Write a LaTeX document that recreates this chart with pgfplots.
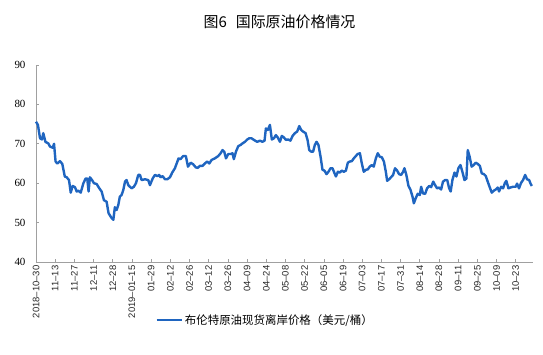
\documentclass[border=0pt]{standalone}
\usepackage{fontspec}
\setmainfont{Liberation Serif}
\newfontfamily\sans{Liberation Sans}
\newfontfamily\cjk{Noto Sans CJK SC}
\usepackage{pgfplots}
\pgfplotsset{compat=1.18}
\definecolor{lineblue}{RGB}{31,101,192}
\definecolor{axgray}{RGB}{160,160,160}
\begin{document}
\begin{tikzpicture}
\begin{axis}[
  at={(0,0)}, anchor=south west,
  width=497bp, height=197bp, scale only axis,
  xmin=0, xmax=259, ymin=40, ymax=90,
  axis x line*=bottom, axis y line*=left,
  axis line style={draw=axgray, line width=0.8bp},
  tick align=inside, major tick length=3bp,
  tick style={draw=axgray, line width=0.6bp},
  xtick={0,10,...,250},
  xticklabels={2018–10–30,11–13,11–27,12–11,12–28,2019–01–15,01–29,02–12,02–26,03–12,03–26,04–09,04–24,05–08,05–22,06–05,06–19,07–03,07–17,07–31,08–14,08–28,09–11,09–25,10–09,10–23},
  xticklabel style={rotate=90, anchor=east, font=\sans\fontsize{9.5}{9.5}\selectfont, text=black!85},
  ytick={40,50,...,90},
  yticklabel style={font=\fontsize{11}{12}\selectfont, xshift=-7bp},
  /pgf/number format/assume math mode=true,
  legend style={at={(0.461,-0.294)}, anchor=center, draw=none, fill=none,
    font=\cjk\fontsize{11.5}{13}\selectfont, inner sep=0pt},
  legend image code/.code={\draw[#1] (0bp,0bp) -- (25bp,0bp);},
  clip=false,
]
\addplot[color=lineblue, line width=2.4bp, line join=round] coordinates {
(0,75.6)(1.0,74.8)(2.1,71.4)(3.1,71.1)(3.8,72.7)(4.9,70.5)(6.4,70.1)(7.3,69.3)(8.7,69.0)(9.4,70.0)
(10.2,65.5)(11.1,65.0)(12.5,65.6)(13.7,64.9)(15.0,61.7)(16.0,61.5)(17.2,60.8)(18.1,57.6)(19.1,59.3)(20.3,59.0)
(21.2,57.9)(22.1,58.1)(23.3,57.6)(24.7,60.0)(25.9,61.2)(26.7,61.2)(27.4,57.9)(28.1,61.5)(29.2,60.8)(30.2,60.0)
(31.6,59.8)(33.0,58.7)(34.2,57.9)(35.4,55.7)(36.8,55.3)(37.8,52.4)(39.2,51.3)(40.3,50.7)(41.1,53.9)(42.0,53.2)
(42.9,54.5)(43.7,56.6)(44.6,57.0)(45.5,58.3)(46.4,60.4)(47.2,60.8)(48.1,59.5)(49.8,58.7)(51.0,59.1)(52.1,60.0)
(53.3,62.1)(54.2,62.1)(55.0,60.8)(56.8,61.0)(58.5,60.8)(59.4,59.5)(60.8,61.2)(62.0,62.1)(63.2,61.8)(64.2,62.1)
(64.9,61.5)(66.0,61.8)(67.2,61.0)(68.4,61.0)(69.8,61.5)(71.0,62.7)(72.4,63.8)(73.3,65.0)(74.3,66.3)(75.3,66.1)
(76.7,66.9)(78.1,66.9)(79.2,64.2)(80.6,65.2)(81.9,64.8)(83.3,64.0)(84.3,63.9)(85.4,64.4)(86.8,64.4)(88.0,65.0)
(89.2,65.5)(90.3,65.0)(91.5,65.9)(93.2,66.3)(95.0,66.9)(96.2,67.6)(97.2,68.4)(98.1,68.0)(99.0,66.3)(100.2,67.4)
(101.4,67.4)(102.4,67.6)(103.1,66.1)(104.2,68.0)(105.4,69.4)(106.6,69.7)(107.6,70.1)(108.9,70.5)(110.1,71.1)(111.1,71.4)
(112.3,71.4)(113.2,71.1)(114.2,70.8)(115.3,70.5)(116.7,70.8)(118.0,70.5)(119.1,70.8)(119.8,73.9)(120.8,73.5)(121.9,74.8)
(122.9,71.1)(124.0,71.4)(125.0,72.2)(126.0,71.6)(127.1,70.5)(128.1,72.0)(129.2,71.6)(130.2,71.0)(131.4,71.1)(132.6,70.8)
(133.7,72.0)(134.9,72.7)(136.1,73.1)(137.2,74.5)(138.2,73.5)(139.2,73.1)(140.5,72.7)(141.5,71.0)(142.4,68.4)(143.4,68.0)
(144.4,68.0)(145.3,69.7)(146.2,70.5)(147.2,69.7)(148.3,66.7)(149.3,63.4)(150.3,63.2)(151.4,62.3)(152.4,62.9)(153.5,63.8)
(154.5,63.8)(155.6,62.5)(156.3,61.7)(157.3,62.9)(158.3,62.7)(159.4,63.2)(160.4,62.9)(161.5,63.2)(162.5,65.2)(163.5,65.5)
(164.6,65.6)(165.6,66.3)(166.7,66.9)(167.6,67.4)(168.8,67.6)(169.8,65.0)(170.8,62.9)(171.9,63.4)(172.9,63.5)(173.9,64.2)
(175.0,64.6)(176.0,64.2)(177.1,66.3)(178.1,67.6)(179.2,66.7)(180.2,66.6)(181.3,65.5)(182.3,62.9)(183.0,60.6)(184.0,61.0)
(185.0,61.5)(186.1,62.1)(187.1,63.8)(188.2,63.2)(189.2,62.3)(190.3,62.1)(191.3,62.9)(192.0,63.8)(193.0,62.1)(194.1,59.3)
(195.1,58.4)(196.2,56.6)(196.9,54.9)(197.9,56.2)(198.9,57.3)(200.0,57.0)(200.7,59.1)(201.7,57.4)(202.8,57.3)(203.8,58.7)
(204.9,59.3)(205.9,59.0)(207.0,60.4)(208.0,59.5)(209.0,58.7)(210.1,58.9)(211.1,58.4)(212.1,60.4)(213.2,60.8)(214.3,60.8)
(215.3,58.7)(216.1,57.9)(217.0,60.8)(218.1,62.7)(219.1,61.7)(220.1,63.8)(221.2,64.6)(222.2,62.9)(223.3,60.8)(224.3,61.2)
(225.0,68.4)(226.0,66.7)(227.0,64.2)(228.1,64.6)(229.1,65.2)(230.2,64.9)(231.3,64.4)(232.3,62.5)(233.4,62.3)(234.4,61.8)
(235.4,60.4)(236.5,58.9)(237.5,57.6)(238.6,58.1)(239.6,58.4)(240.6,58.9)(241.3,57.9)(242.4,59.1)(243.4,58.7)(244.4,60.1)
(245.1,60.6)(246.2,58.7)(247.2,58.9)(248.6,59.1)(250.0,59.1)(250.7,59.9)(251.7,58.7)(252.8,60.1)(253.8,60.8)(254.9,62.1)
(255.9,61.0)(257.0,60.8)(257.7,59.9)(258.4,59.3)
};
\addlegendentry{布伦特原油现货离岸价格（美元/桶）}
\node[font=\cjk\fontsize{15}{17}\selectfont] at (rel axis cs:0.49,1.218) {图6\hspace{0.6em}国际原油价格情况};
\end{axis}
\path[use as bounding box] (-36bp,-93bp) rectangle (507bp,262bp);
\end{tikzpicture}
\end{document}
